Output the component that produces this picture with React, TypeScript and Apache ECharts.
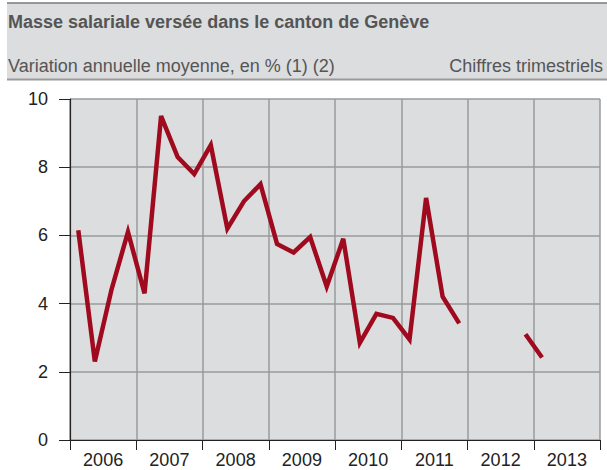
import React, { useEffect, useRef } from "react";
import * as echarts from "echarts";

const years = ["2006", "2007", "2008", "2009", "2010", "2011", "2012", "2013"];
const quarters = years.flatMap((y) => ["T1", "T2", "T3", "T4"].map((q) => `${y} ${q}`));
const values: (number | null)[] = [
  6.15, 2.3, 4.4, 6.1,
  4.3, 9.5, 8.3, 7.8,
  8.65, 6.2, 7.0, 7.5,
  5.75, 5.5, 5.95, 4.5,
  5.9, 2.85, 3.7, 3.58,
  2.95, 7.1, 4.2, 3.42,
  null, null, null, 3.1,
  2.42, null, null, null,
];
const title = "Masse salariale versée dans le canton de Genève";
const subtitle = "Variation annuelle moyenne, en % (1) (2)";
const note = "Chiffres trimestriels";

export default function App() {
  const ref = useRef<HTMLDivElement>(null);
  useEffect(() => {
    if (!ref.current) return;
    const chart = echarts.init(ref.current, null, { renderer: "svg" });
    const font = "'Liberation Sans', Arial, sans-serif";
    chart.setOption({
      animation: false,
      textStyle: { fontFamily: font },
      graphic: [
        { type: "rect", shape: { x: 7, y: 3, width: 600, height: 76 }, style: { fill: "#dcdddf" } },
        { type: "line", shape: { x1: 7, y1: 3, x2: 607, y2: 3 }, style: { stroke: "#7a7a7a", lineWidth: 1.5 } },
        { type: "line", shape: { x1: 7, y1: 79.5, x2: 607, y2: 79.5 }, style: { stroke: "#9a9a9a", lineWidth: 2 } },
        { type: "text", x: 8, y: 22, style: { text: title, font: `bold 18px ${font}`, fill: "#555", textVerticalAlign: "middle" } },
        { type: "text", x: 8, y: 65.5, style: { text: subtitle, font: `18px ${font}`, fill: "#555", textVerticalAlign: "middle" } },
        { type: "text", x: 603, y: 65.5, style: { text: note, font: `18px ${font}`, fill: "#555", textAlign: "right", textVerticalAlign: "middle" } },
      ],
      grid: { left: 70, right: 7, top: 99, bottom: 30, show: true, backgroundColor: "#dcdddf", borderWidth: 0 },
      xAxis: [
        {
          type: "category",
          data: years,
          boundaryGap: true,
          axisLine: { show: true, lineStyle: { color: "#222", width: 1.2 } },
          axisTick: { show: true, length: 10, lineStyle: { color: "#222" } },
          axisLabel: { color: "#222", fontSize: 18, margin: 11, fontFamily: font },
          splitLine: { show: true, lineStyle: { color: "#9a9a9a", width: 1.5 } },
        },
        {
          type: "category",
          data: quarters,
          boundaryGap: true,
          show: false,
        },
      ],
      yAxis: {
        type: "value",
        min: 0,
        max: 10,
        interval: 2,
        axisLine: { show: true, lineStyle: { color: "#222", width: 1.2 } },
        axisTick: { show: true, length: 11, lineStyle: { color: "#222" } },
        axisLabel: { color: "#222", fontSize: 18, margin: 22, fontFamily: font },
        splitLine: { show: true, lineStyle: { color: "#9a9a9a", width: 1.5 } },
      },
      series: [
        {
          type: "line",
          xAxisIndex: 1,
          data: values,
          showSymbol: false,
          connectNulls: false,
          lineStyle: { color: "#a00a1e", width: 4.5, join: "miter" },
          itemStyle: { color: "#a00a1e" },
          z: 5,
        },
      ],
    });
    return () => chart.dispose();
  }, []);
  return <div ref={ref} style={{ position: "absolute", left: 0, top: 0, width: 607, height: 470 }} />;
}
